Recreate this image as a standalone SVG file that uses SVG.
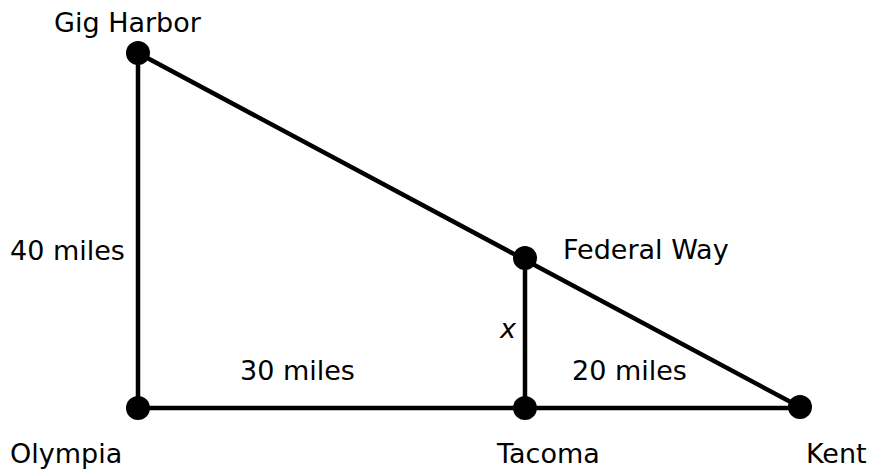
<svg xmlns="http://www.w3.org/2000/svg" width="872" height="476" viewBox="0 0 872 476">
<style>
.lbl{font-family:"DejaVu Sans","Liberation Sans",sans-serif;font-size:27px;fill:#000}
.edge{stroke:#000;stroke-width:4.5;stroke-linecap:round;fill:none}
.dot{fill:#000}
</style>
<rect width="872" height="476" fill="#fff"/>
<g id="connectors">
<line class="edge" x1="138" y1="53" x2="138" y2="408"/>
<line class="edge" x1="138" y1="408" x2="800" y2="408"/>
<line class="edge" x1="138" y1="53" x2="800" y2="407"/>
<line class="edge" x1="525" y1="258" x2="525" y2="408"/>
</g>
<g id="gig-harbor"><circle class="dot" cx="138" cy="53" r="12"/><text class="lbl" x="54" y="32">Gig Harbor</text></g>
<g id="olympia"><circle class="dot" cx="138" cy="408" r="12"/><text class="lbl" x="10" y="463">Olympia</text></g>
<g id="tacoma"><circle class="dot" cx="525" cy="408" r="12"/><text class="lbl" x="497" y="463">Tacoma</text></g>
<g id="kent"><circle class="dot" cx="800" cy="407" r="12"/><text class="lbl" x="806" y="463">Kent</text></g>
<g id="federal-way"><circle class="dot" cx="525" cy="258" r="12"/><text class="lbl" x="563" y="259">Federal Way</text></g>
<g id="labels">
<text class="lbl" x="10" y="260">40 miles</text>
<text class="lbl" x="240" y="380">30 miles</text>
<text class="lbl" x="572" y="380">20 miles</text>
<text class="lbl" x="500" y="338" font-style="italic">x</text>
</g>
</svg>
